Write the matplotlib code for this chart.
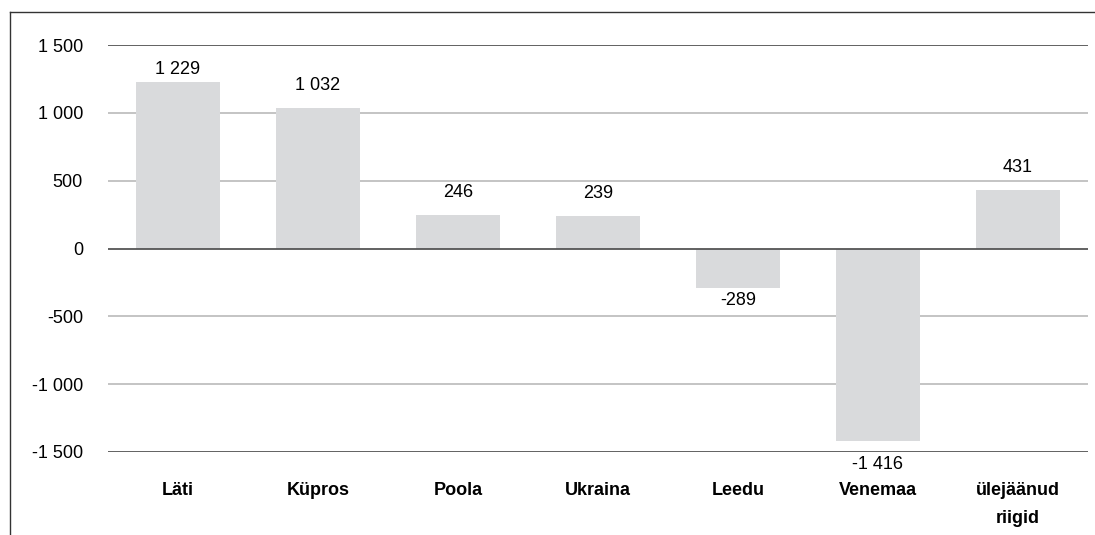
import matplotlib
matplotlib.use("Agg")
import matplotlib.pyplot as plt
from matplotlib.lines import Line2D

categories = ["Läti", "Küpros", "Poola", "Ukraina", "Leedu", "Venemaa", "ülejäänud\nriigid"]
values = [1229, 1032, 246, 239, -289, -1416, 431]
yticks = [1500, 1000, 500, 0, -500, -1000, -1500]

def fmt(v):
    s = f"{abs(v):,}".replace(",", " ")
    return ("-" if v < 0 else "") + s

plt.rcParams['font.family'] = ['Liberation Sans', 'DejaVu Sans']

W, H = 1095, 535
PX = 72 / 100  # points per pixel at dpi 100
fig = plt.figure(figsize=(W/100, H/100), dpi=100)
ax_top, ax_bot = 45, 452
ax = fig.add_axes([108/W, 1 - ax_bot/H, (1088-108)/W, (ax_bot-ax_top)/H])

x = list(range(len(categories)))
ax.bar(x, values, width=0.6, color="#d9dadc", zorder=2)
ax.set_xlim(-0.5, 6.5)
ax.set_ylim(-1500, 1500)
upp = 3000 / (ax_bot - ax_top)  # data units per pixel

for t in yticks:
    dark = t in (1500, -1500, 0)
    ax.axhline(t, color="#555555" if dark else "#b4b4b4", lw=1.3 if dark else 1.1,
               zorder=3 if t == 0 else 1)

ax.set_yticks(yticks)
ax.set_yticklabels([fmt(t) for t in yticks], fontsize=13)
ax.tick_params(axis='y', length=0, pad=25*PX)
ax.set_xticks([])
for s in ax.spines.values():
    s.set_visible(False)

for xi, v in zip(x, values):
    if v >= 0:
        y = min(v + 18 * upp, 1500 - 28.5 * upp)
        ax.text(xi, y, fmt(v), ha='center', va='baseline', fontsize=13)
    else:
        anchor = v if v > -1400 else -1500
        ax.text(xi, anchor - 17 * upp, fmt(v), ha='center', va='baseline', fontsize=13,
                clip_on=False)

for xi, c in zip(x, categories):
    ax.annotate(c, (xi, -1500), xytext=(0, -30*PX), textcoords='offset points',
                ha='center', va='top', fontsize=13, fontweight='bold', linespacing=1.83)

# outer frame lines (top and left)
fig.add_artist(Line2D([9.5/W, 1], [1 - 11.5/H, 1 - 11.5/H], color="#333333", lw=1.0, transform=fig.transFigure))
fig.add_artist(Line2D([9.5/W, 9.5/W], [0, 1 - 11.5/H], color="#333333", lw=1.0, transform=fig.transFigure))

fig.savefig("out.png", dpi=100)
